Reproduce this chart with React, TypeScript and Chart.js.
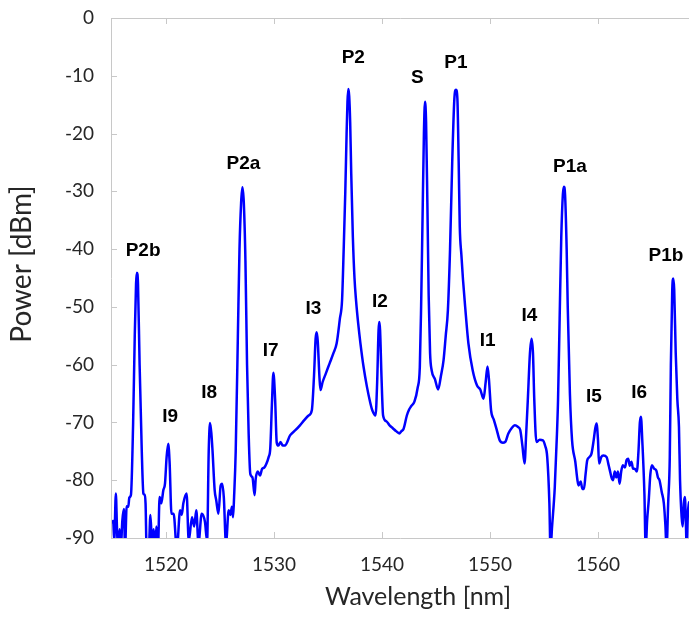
import React, { useEffect, useRef } from "react";
import { Chart, registerables } from "chart.js";

Chart.register(...registerables);

// Spectrum trace: wavelength [nm] and power [dBm]
const wavelengths: number[] = [
  1515.0, 1515.1, 1515.2, 1515.35, 1515.45, 1515.55, 1515.7, 1515.8, 1515.95, 1516.1,
  1516.2, 1516.35, 1516.5, 1516.6, 1516.75, 1516.95, 1517.1, 1517.22, 1517.3, 1517.4,
  1517.55, 1517.75, 1517.9, 1518.0, 1518.1, 1518.2, 1518.4, 1518.55, 1518.7, 1518.85,
  1519.0, 1519.1, 1519.25, 1519.4, 1519.55, 1519.75, 1519.9, 1520.05, 1520.2, 1520.33,
  1520.5, 1520.7, 1521.0, 1521.3, 1521.45, 1521.6, 1521.9, 1522.1, 1522.4, 1522.6,
  1522.8, 1523.0, 1523.3, 1523.6, 1523.8, 1523.95, 1524.07, 1524.2, 1524.3, 1524.5,
  1524.65, 1524.85, 1525.05, 1525.2, 1525.35, 1525.55, 1525.8, 1525.95, 1526.1, 1526.2,
  1526.3, 1526.45, 1526.65, 1526.8, 1526.95, 1527.07, 1527.2, 1527.35, 1527.5, 1527.65,
  1527.8, 1528.0, 1528.2, 1528.3, 1528.5, 1528.7, 1528.9, 1529.1, 1529.3, 1529.5,
  1529.65, 1529.8, 1529.94, 1530.1, 1530.25, 1530.4, 1530.6, 1530.8, 1531.0, 1531.5,
  1532.0, 1532.4, 1532.8, 1533.2, 1533.5, 1533.7, 1533.85, 1533.95, 1534.05, 1534.2,
  1534.3, 1534.5, 1534.8, 1535.0, 1535.2, 1535.5, 1535.8, 1536.1, 1536.3, 1536.45,
  1536.6, 1536.72, 1536.8, 1536.88, 1536.96, 1537.05, 1537.15, 1537.3, 1537.45, 1537.6,
  1537.8, 1538.0, 1538.3, 1538.6, 1538.9, 1539.1, 1539.4, 1539.55, 1539.68, 1539.75,
  1539.82, 1539.95, 1540.1, 1540.4, 1540.7, 1541.0, 1541.3, 1541.6, 1541.8, 1542.0,
  1542.3, 1542.5, 1542.7, 1543.0, 1543.3, 1543.5, 1543.62, 1543.75, 1543.88, 1543.98,
  1544.08, 1544.2, 1544.32, 1544.45, 1544.6, 1544.9, 1545.2, 1545.45, 1545.7, 1545.9,
  1546.1, 1546.3, 1546.5, 1546.7, 1546.85, 1546.98, 1547.1, 1547.2, 1547.35, 1547.5,
  1547.7, 1548.0, 1548.4, 1548.8, 1549.1, 1549.4, 1549.6, 1549.77, 1549.9, 1550.1,
  1550.35, 1550.6, 1550.9, 1551.2, 1551.4, 1551.7, 1552.0, 1552.3, 1552.6, 1552.8,
  1553.0, 1553.2, 1553.35, 1553.5, 1553.7, 1553.85, 1553.98, 1554.1, 1554.3, 1554.6,
  1554.9, 1555.1, 1555.3, 1555.5, 1555.6, 1555.75, 1556.0, 1556.2, 1556.3, 1556.45,
  1556.6, 1556.75, 1556.85, 1556.95, 1557.1, 1557.2, 1557.4, 1557.6, 1557.9, 1558.1,
  1558.2, 1558.4, 1558.55, 1558.7, 1558.85, 1559.0, 1559.2, 1559.4, 1559.6, 1559.75,
  1559.87, 1560.0, 1560.1, 1560.3, 1560.5, 1560.8, 1561.0, 1561.1, 1561.25, 1561.4,
  1561.55, 1561.7, 1561.85, 1562.0, 1562.15, 1562.3, 1562.5, 1562.65, 1562.8, 1562.95,
  1563.1, 1563.25, 1563.4, 1563.6, 1563.75, 1563.88, 1563.98, 1564.1, 1564.3, 1564.42,
  1564.55, 1564.7, 1564.85, 1565.0, 1565.2, 1565.4, 1565.55, 1565.7, 1565.9, 1566.1,
  1566.25, 1566.35, 1566.5, 1566.65, 1566.75, 1566.88, 1566.97, 1567.06, 1567.2, 1567.35,
  1567.5, 1567.6, 1567.75, 1567.85, 1567.95, 1568.05, 1568.15, 1568.22, 1568.32, 1568.4,
  1568.5,
];

const powers: number[] = [
  -87.5, -87.0, -90.5, -82.3, -88, -92, -88.5, -92, -87, -85,
  -92, -84.5, -84.6, -83, -82.5, -70, -55, -46, -44.1, -46,
  -60, -75, -82.3, -82.5, -84, -92, -92, -86, -91, -88.5,
  -92, -88, -92, -82.9, -84, -81.7, -80.6, -76, -73.7, -77,
  -85.8, -85.8, -92, -85.2, -86, -84, -82.3, -90.5, -86.4, -88,
  -85.2, -91, -85.8, -87.2, -90.5, -75, -70.1, -72, -74.8, -81.7,
  -83.5, -85.8, -81, -80.6, -83, -91, -85.2, -86, -84.6, -86.4,
  -82.9, -75, -55, -40, -32, -29.3, -32, -42, -60, -72,
  -78.9, -79.5, -82.6, -79.8, -78.5, -79.2, -78, -77.8, -77.1, -76,
  -74.5, -67, -61.4, -66, -73.5, -74, -73.4, -74, -74, -72.2,
  -71.3, -70.5, -69.6, -68.8, -67.9, -62, -55.5, -54.4, -56, -62,
  -64.4, -63, -61.5, -60.5, -59.5, -58, -56.3, -52, -48.8, -40,
  -30, -20, -14.5, -12.3, -13.5, -18, -27, -38, -45, -49,
  -53, -56.3, -60.5, -63.8, -66.5, -67.9, -68.8, -63, -54, -52.6,
  -54, -62, -68.8, -69.8, -70.5, -71, -71.5, -71.9, -71.5, -71.1,
  -68.8, -67.8, -67.2, -66.4, -64, -60.4, -50, -35, -20, -14.5,
  -18, -32, -48, -58, -61, -62.5, -64.3, -62, -59.2, -55,
  -50.6, -40, -25, -14, -12.4, -14, -25, -36.1, -41, -45.3,
  -50, -56.3, -61, -63.6, -64.3, -65.9, -63, -60.3, -62.5, -67.9,
  -69.5, -71.1, -73.1, -73.5, -73.4, -71.9, -71, -70.5, -70.8, -71.3,
  -74, -77.1, -72, -66.2, -58, -55.5, -58, -66, -73.4, -73,
  -73.1, -74, -76, -84, -92, -88, -81.2, -72, -66.2, -52,
  -38, -30.5, -29.2, -30.5, -40, -50, -65, -73.1, -76.8, -80,
  -80.9, -80.2, -81.5, -81.5, -79, -76.6, -76, -75.4, -73.1, -71,
  -70.2, -73, -77.1, -76, -75.7, -76, -77.5, -78.3, -79.5, -80,
  -78.5, -79.5, -78.5, -80.6, -78.5, -77.4, -77.8, -76.5, -76.3, -77.5,
  -76.8, -78, -78, -78.5, -75, -70, -69, -73, -82.3, -92,
  -87, -83.5, -79, -77.4, -78, -78.3, -79.5, -80, -82, -84,
  -88, -92, -84, -76, -60, -47, -45.1, -47, -58, -66,
  -70.8, -80, -86.4, -88, -84, -82.9, -88, -92, -86, -83.8,
  -85,
];

// Peak annotations: text and anchor (wavelength, power)
const peakNames: string[] = ["P2b", "I9", "I8", "P2a", "I7", "I3", "P2", "I2", "S", "P1", "I1", "I4", "P1a", "I5", "I6", "P1b"];
const peakLabelX: number[] = [1517.87, 1520.37, 1524.0, 1527.16, 1529.69, 1533.64, 1537.34, 1539.81, 1543.27, 1546.85, 1549.79, 1553.64, 1557.41, 1559.63, 1563.82, 1566.3];
const peakLabelY: number[] = [-40.2, -69.0, -64.9, -25.3, -57.6, -50.3, -6.9, -49.1, -10.4, -7.7, -55.8, -51.6, -25.7, -65.6, -64.9, -41.2];

const xTickValues: number[] = [1520, 1530, 1540, 1550, 1560];
const yTickValues: number[] = [-90, -80, -70, -60, -50, -40, -30, -20, -10, 0];

const xTitle = "Wavelength [nm]";
const yTitle = "Power [dBm]";

const AXIS_COLOR = "#c8c8c8";
const TEXT_COLOR = "#262626";
const FONT_FAMILY = "Lato, 'Open Sans', sans-serif";

const framePlugin = {
  id: "frameAndTicks",
  afterDatasetsDraw(chart: any) {
    const { ctx, chartArea, scales } = chart;
    const { left, right, top, bottom } = chartArea;
    ctx.save();
    ctx.strokeStyle = AXIS_COLOR;
    ctx.lineWidth = 1;
    ctx.beginPath();
    ctx.moveTo(right + 1, top + 0.5);
    ctx.lineTo(left + 0.5, top + 0.5);
    ctx.lineTo(left + 0.5, bottom + 0.5);
    ctx.lineTo(right + 1, bottom + 0.5);
    const tl = 6;
    for (const v of xTickValues) {
      const px = Math.round(scales.x.getPixelForValue(v)) + 0.5;
      ctx.moveTo(px, bottom);
      ctx.lineTo(px, bottom - tl);
      ctx.moveTo(px, top);
      ctx.lineTo(px, top + tl);
    }
    for (const v of yTickValues) {
      const py = Math.round(scales.y.getPixelForValue(v)) + 0.5;
      ctx.moveTo(left, py);
      ctx.lineTo(left + tl, py);
    }
    ctx.stroke();
    ctx.restore();
  },
};

// Axis titles (the original chart's x title sits right of the visible plot centre)
const titlePlugin = {
  id: "axisTitles",
  afterDraw(chart: any) {
    const { ctx } = chart;
    ctx.save();
    ctx.fillStyle = TEXT_COLOR;
    ctx.textAlign = "center";
    ctx.font = `25px ${FONT_FAMILY}`;
    ctx.textBaseline = "alphabetic";
    ctx.fillText(xTitle, 418, 605);
    ctx.translate(22, 264);
    ctx.rotate(-Math.PI / 2);
    ctx.font = `28px ${FONT_FAMILY}`;
    ctx.textBaseline = "middle";
    ctx.fillText(yTitle, 0, 0);
    ctx.restore();
  },
};

const labelPlugin = {
  id: "peakLabels",
  afterDatasetsDraw(chart: any) {
    const { ctx, scales } = chart;
    ctx.save();
    ctx.fillStyle = "#000000";
    ctx.font = "bold 19px 'Liberation Sans', Arial, sans-serif";
    ctx.textAlign = "center";
    ctx.textBaseline = "middle";
    peakNames.forEach((name, i) => {
      const x = scales.x.getPixelForValue(peakLabelX[i]);
      const y = scales.y.getPixelForValue(peakLabelY[i]);
      ctx.fillText(name, x, y);
    });
    ctx.restore();
  },
};

export default function App() {
  const canvasRef = useRef<HTMLCanvasElement | null>(null);

  useEffect(() => {
    document.body.style.margin = "0";
    const canvas = canvasRef.current;
    if (!canvas) return;
    const points = wavelengths.map((w, i) => ({ x: w, y: powers[i] }));
    const chart = new Chart(canvas, {
      type: "line",
      data: {
        datasets: [
          {
            data: points,
            borderColor: "#0000ff",
            borderWidth: 2.5,
            pointRadius: 0,
            fill: false,
            cubicInterpolationMode: "monotone",
            clip: 0,
          } as any,
        ],
      },
      options: {
        animation: false,
        responsive: false,
        devicePixelRatio: 1,
        layout: { padding: { top: 18, right: 0, bottom: 0, left: 0 } },
        plugins: {
          legend: { display: false },
          tooltip: { enabled: false },
        },
        scales: {
          x: {
            type: "linear",
            min: 1514.9,
            max: 1568.43,
            afterBuildTicks: (scale: any) => {
              scale.ticks = xTickValues.map((v) => ({ value: v }));
            },
            afterFit: (scale: any) => {
              scale.height = 80;
              scale.paddingLeft = 0;
              scale.paddingRight = 0;
            },
            grid: { display: false, drawTicks: false },
            border: { display: false },
            ticks: {
              font: { family: FONT_FAMILY, size: 19 },
              color: TEXT_COLOR,
              padding: 15,
              maxRotation: 0,
              autoSkip: false,
              callback: (v: any) => String(v),
            },
            title: { display: false, text: xTitle },
          },
          y: {
            type: "linear",
            min: -90,
            max: 0,
            afterBuildTicks: (scale: any) => {
              scale.ticks = yTickValues.map((v) => ({ value: v }));
            },
            afterFit: (scale: any) => {
              scale.width = 111;
              scale.paddingTop = 0;
              scale.paddingBottom = 0;
            },
            grid: { display: false, drawTicks: false },
            border: { display: false },
            ticks: {
              font: { family: FONT_FAMILY, size: 19 },
              color: TEXT_COLOR,
              padding: 17,
              autoSkip: false,
              callback: (v: any) => String(v),
            },
            title: { display: false, text: yTitle },
          },
        },
      },
      plugins: [framePlugin, labelPlugin, titlePlugin],
    });
    return () => chart.destroy();
  }, []);

  return (
    <div style={{ position: "absolute", left: 0, top: 0, width: 689, height: 618, background: "#ffffff" }}>
      <canvas ref={canvasRef} width={689} height={618} style={{ display: "block", width: 689, height: 618 }} />
    </div>
  );
}
